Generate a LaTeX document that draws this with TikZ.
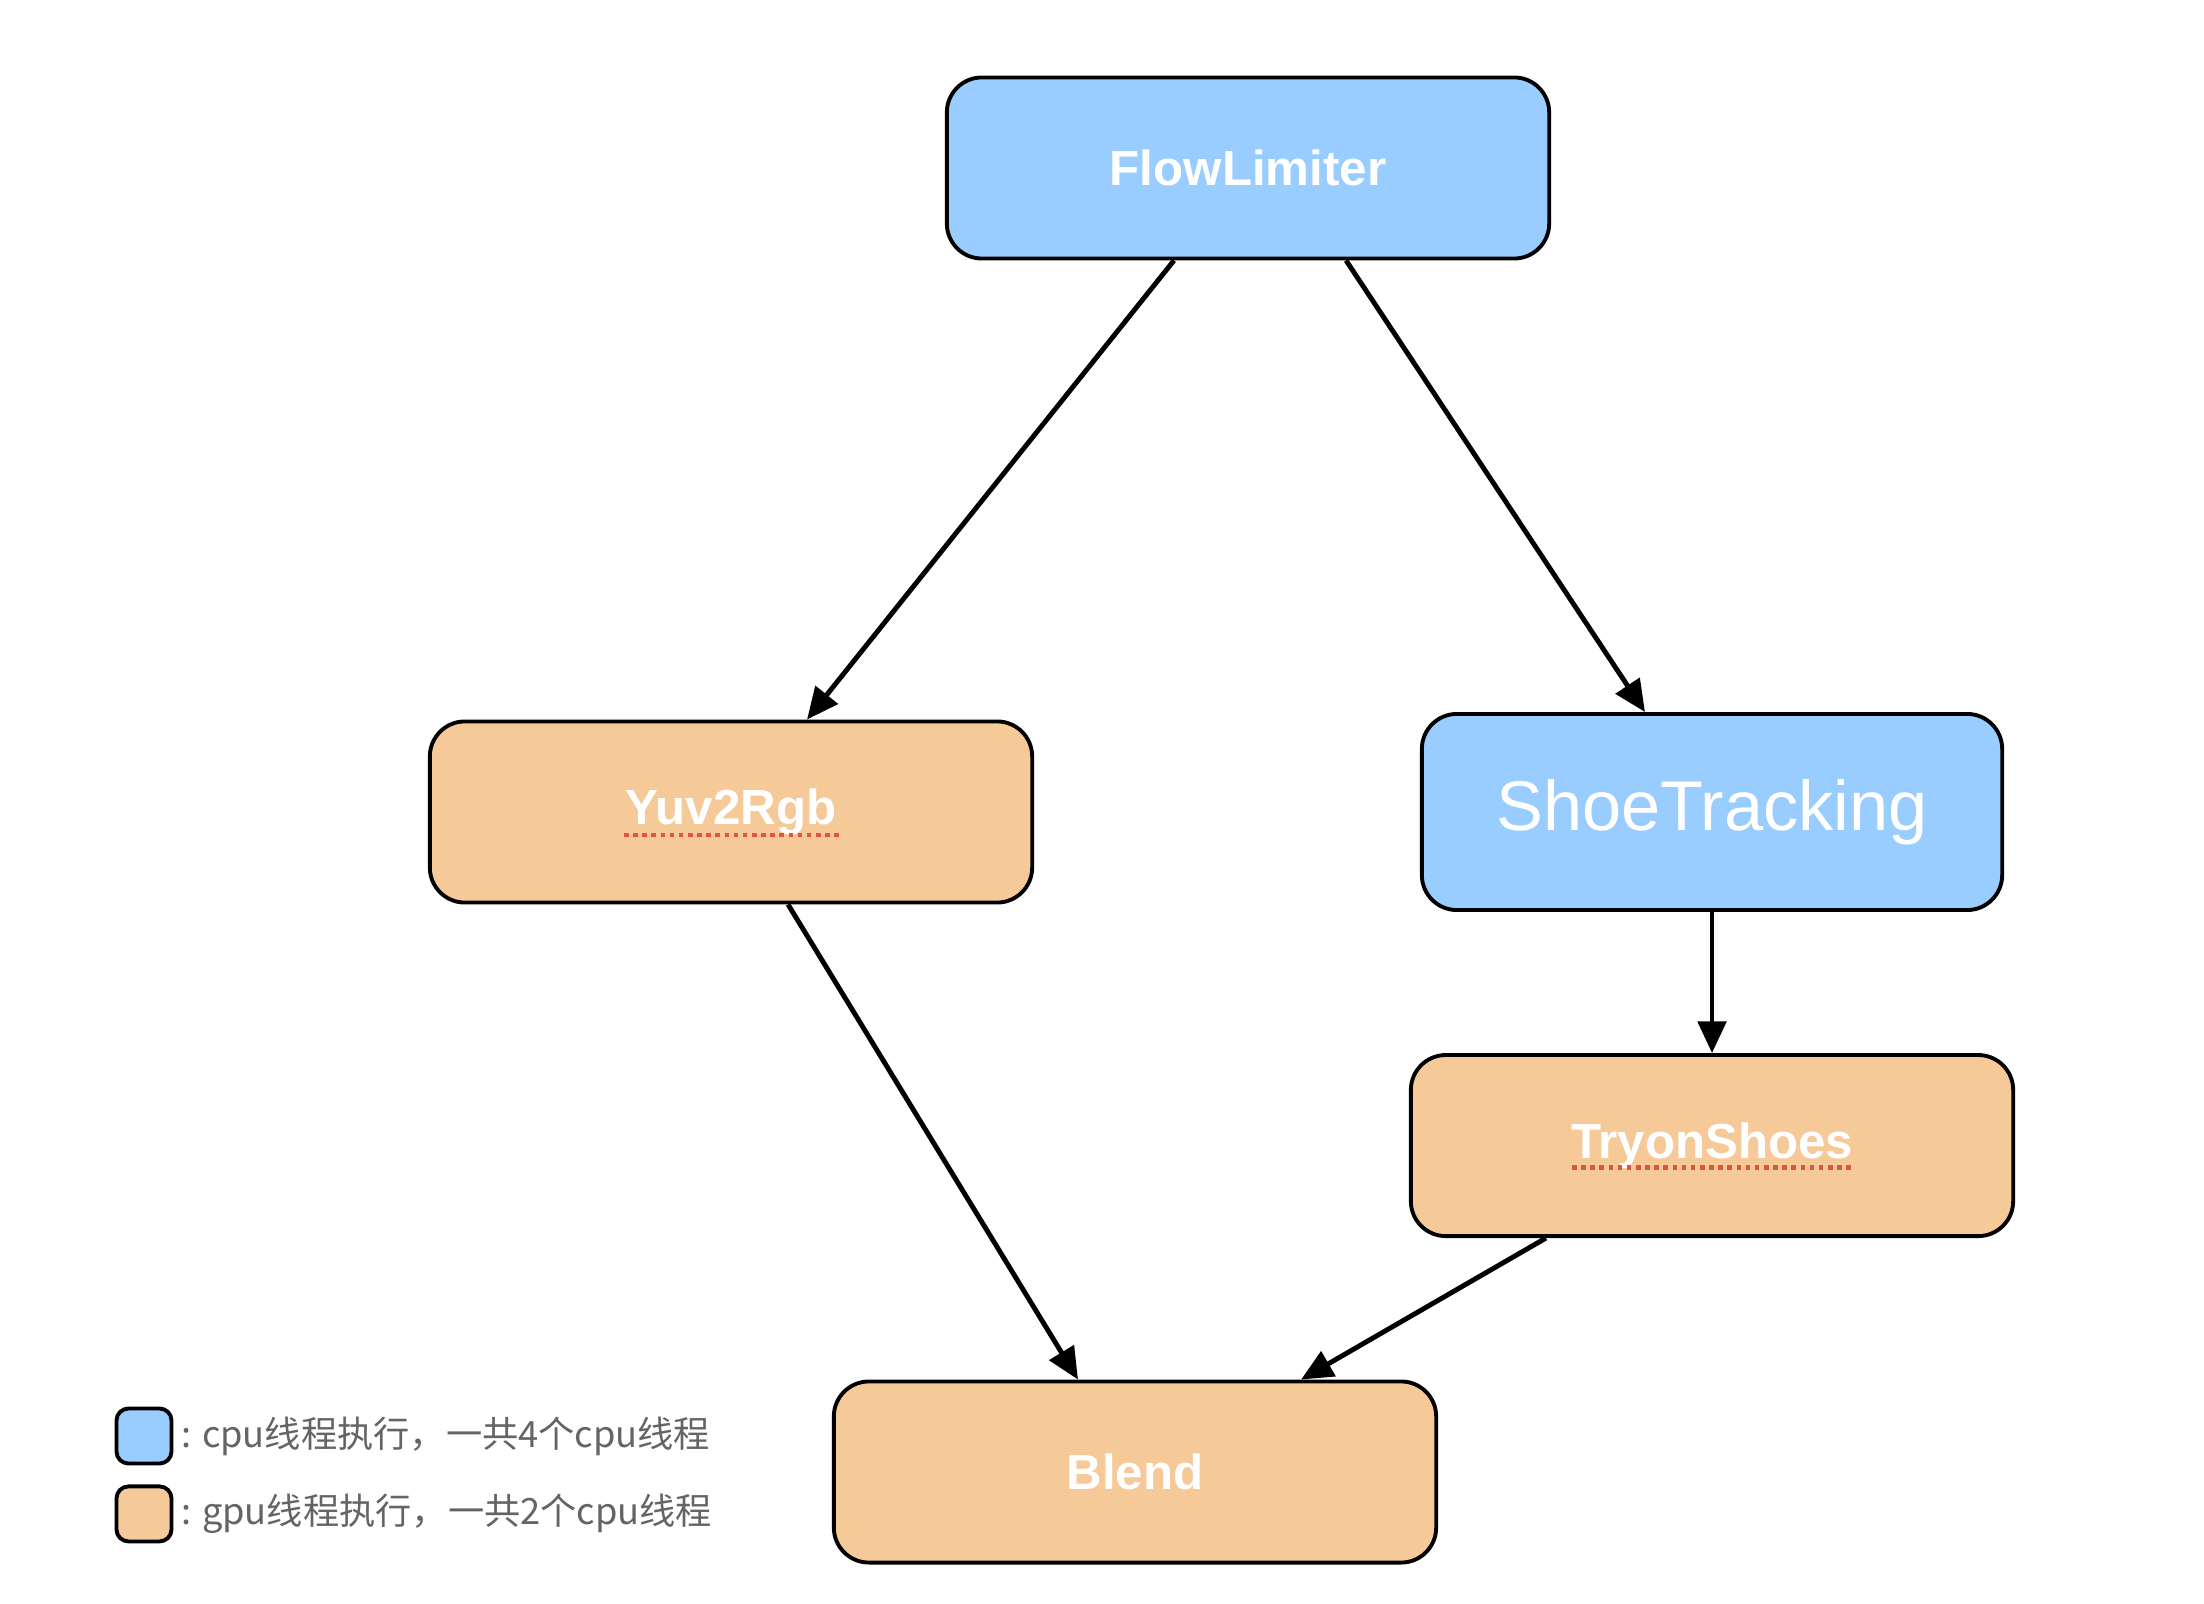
\documentclass[tikz,border=0pt]{standalone}
\usepackage{fontspec}
\setmainfont{Liberation Sans}
\newfontfamily\cjk{Noto Sans CJK SC}
\usepackage{tikz}
\usetikzlibrary{positioning, arrows.meta}

\definecolor{cpublue}{RGB}{153,204,255}
\definecolor{gpuorange}{RGB}{246,201,152}
\definecolor{legendgray}{RGB}{100,100,100}
\definecolor{spellred}{RGB}{225,85,60}

\begin{document}
\begin{tikzpicture}[x=0.01cm, y=-0.01cm,
    task/.style={draw, line width=1.1pt, rounded corners=0.35cm, minimum width=6.02cm, minimum height=1.81cm,
                 text=white, font=\fontsize{14pt}{16pt}\selectfont\bfseries},
    cpu/.style={task, fill=cpublue},
    gpu/.style={task, fill=gpuorange},
    key/.style={draw, line width=1.1pt, rounded corners=0.12cm, minimum size=0.55cm, inner sep=0pt},
    keytext/.style={inner sep=0pt, text=legendgray, font=\cjk\fontsize{10.3pt}{12pt}\selectfont},
    link/.style={-{Triangle[length=9pt, width=8pt]}, line width=1.4pt},
    spell/.style={spellred, line width=1.3pt, dash pattern=on 1.3pt off 1.3pt}]
    \useasboundingbox (0,0) rectangle (2204,1604);

    \node[cpu]                       (limiter) at (1248,168)  {FlowLimiter};
    \node[gpu]                       (yuv)     at (731,812)   {Yuv2Rgb};
    \node[cpu, minimum width=5.8cm, minimum height=1.96cm,
          font=\fontsize{20pt}{24pt}\selectfont]
                                     (shoe)    at (1712,812)  {ShoeTracking};
    \node[gpu, below=1.41cm of shoe] (tryon)                  {TryonShoes};
    \node[gpu]                       (blend)   at (1135,1472) {Blend};

    % legend
    \node[key, fill=cpublue]                           (cpukey) at (144,1436) {};
    \node[key, fill=gpuorange, below=0.19cm of cpukey] (gpukey) {};
    \node[keytext, right=0.07cm of cpukey]             (cputext) {: cpu线程执行，一共4个cpu线程};
    \node[keytext, right=0.07cm of gpukey]             (gputext) {: gpu线程执行，一共2个cpu线程};

    \draw[link] ([xshift=-0.74cm]limiter.south) -- ([xshift=0.76cm]yuv.north);
    \draw[link] ([xshift=0.98cm]limiter.south)  -- ([xshift=-0.67cm]shoe.north);
    \draw[link] (shoe) -- (tryon);
    \draw[link] ([xshift=0.57cm]yuv.south)      -- ([xshift=-0.57cm]blend.north);
    \draw[link] ([xshift=-1.66cm]tryon.south)   -- ([xshift=1.66cm]blend.north);

    % spell-check marks
    \draw[spell] ([xshift=-1.07cm, yshift=-0.23cm]yuv.center)   -- ([xshift=1.08cm, yshift=-0.23cm]yuv.center);
    \draw[spell] ([xshift=-1.40cm, yshift=-0.22cm]tryon.center) -- ([xshift=1.39cm, yshift=-0.22cm]tryon.center);
\end{tikzpicture}
\end{document}
